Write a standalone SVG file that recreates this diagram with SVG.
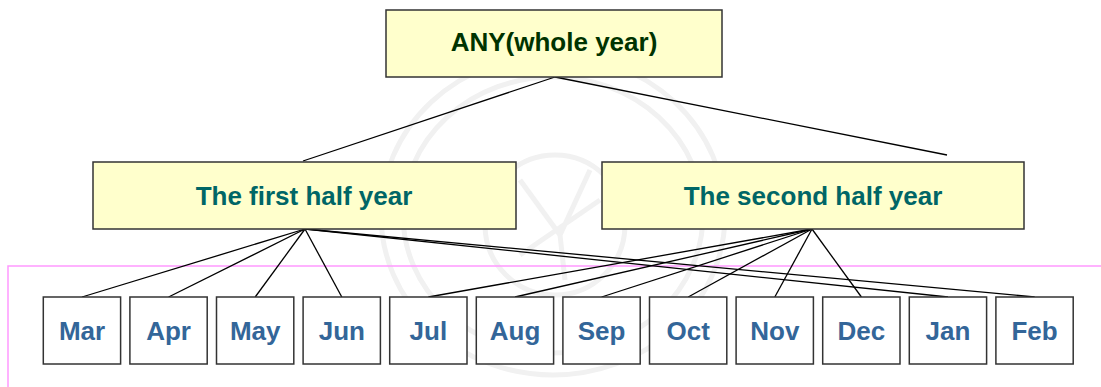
<svg xmlns="http://www.w3.org/2000/svg" width="1101" height="387" viewBox="0 0 1101 387">
<style>
.box{fill:#FFFFCC;stroke:#333333;stroke-width:1.5}
.mbox{fill:#FFFFFF;stroke:#333333;stroke-width:1.5}
.t{font-family:"Liberation Sans",Arial,sans-serif;font-weight:bold;text-anchor:middle}
.top{font-size:26px;fill:#003300}
.mid{font-size:26px;fill:#006666}
.mon{font-size:26px;fill:#336699}
.c{stroke:#000000;stroke-width:1.3;fill:none}
.wm{fill:none;stroke:#f1f1f1;stroke-width:5}
</style>
<rect width="1101" height="387" fill="#FFFFFF"/>
<g id="watermark">
<ellipse class="wm" cx="553" cy="215" rx="172" ry="160"/>
<ellipse class="wm" cx="553" cy="215" rx="150" ry="138" stroke-width="3"/>
<circle class="wm" cx="555" cy="225" r="70" stroke-width="4"/>
<path class="wm" d="M520 180 L560 235 L590 170 M560 235 L565 280 M520 255 L600 200" stroke-width="4"/>
</g>
<g id="frame">
<path d="M8 387 L8 266 L1101 266" fill="none" stroke="#FF99FF" stroke-width="1.5"/>
</g>
<g id="connectors">
<line class="c" x1="555" y1="77" x2="303" y2="161"/>
<line class="c" x1="555" y1="77" x2="947" y2="155"/>
<line class="c" x1="305" y1="229" x2="82" y2="297"/>
<line class="c" x1="305" y1="229" x2="168.6" y2="297"/>
<line class="c" x1="305" y1="229" x2="255.2" y2="297"/>
<line class="c" x1="305" y1="229" x2="341.8" y2="297"/>
<line class="c" x1="305" y1="229" x2="948" y2="297"/>
<line class="c" x1="305" y1="229" x2="1034.6" y2="297"/>
<line class="c" x1="812" y1="229" x2="428.4" y2="297"/>
<line class="c" x1="812" y1="229" x2="515" y2="297"/>
<line class="c" x1="812" y1="229" x2="601.6" y2="297"/>
<line class="c" x1="812" y1="229" x2="688.2" y2="297"/>
<line class="c" x1="812" y1="229" x2="774.8" y2="297"/>
<line class="c" x1="812" y1="229" x2="861.4" y2="297"/>
</g>
<g id="any"><rect class="box" x="386" y="10" width="336" height="67"/><text class="t top" x="554" y="51">ANY(whole year)</text></g>
<g id="first-half"><rect class="box" x="93" y="162" width="423" height="67"/><text class="t mid" x="304" y="205">The first half year</text></g>
<g id="second-half"><rect class="box" x="602" y="162" width="422" height="67"/><text class="t mid" x="813" y="205">The second half year</text></g>
<g id="mar"><rect class="mbox" x="43.3" y="297" width="77.3" height="67"/><text class="t mon" x="82" y="340">Mar</text></g>
<g id="apr"><rect class="mbox" x="129.9" y="297" width="77.3" height="67"/><text class="t mon" x="168.6" y="340">Apr</text></g>
<g id="may"><rect class="mbox" x="216.5" y="297" width="77.3" height="67"/><text class="t mon" x="255.2" y="340">May</text></g>
<g id="jun"><rect class="mbox" x="303.1" y="297" width="77.3" height="67"/><text class="t mon" x="341.8" y="340">Jun</text></g>
<g id="jul"><rect class="mbox" x="389.7" y="297" width="77.3" height="67"/><text class="t mon" x="428.4" y="340">Jul</text></g>
<g id="aug"><rect class="mbox" x="476.3" y="297" width="77.3" height="67"/><text class="t mon" x="515" y="340">Aug</text></g>
<g id="sep"><rect class="mbox" x="562.9" y="297" width="77.3" height="67"/><text class="t mon" x="601.6" y="340">Sep</text></g>
<g id="oct"><rect class="mbox" x="649.5" y="297" width="77.3" height="67"/><text class="t mon" x="688.2" y="340">Oct</text></g>
<g id="nov"><rect class="mbox" x="736.1" y="297" width="77.3" height="67"/><text class="t mon" x="774.8" y="340">Nov</text></g>
<g id="dec"><rect class="mbox" x="822.7" y="297" width="77.3" height="67"/><text class="t mon" x="861.4" y="340">Dec</text></g>
<g id="jan"><rect class="mbox" x="909.3" y="297" width="77.3" height="67"/><text class="t mon" x="948" y="340">Jan</text></g>
<g id="feb"><rect class="mbox" x="995.9" y="297" width="77.3" height="67"/><text class="t mon" x="1034.6" y="340">Feb</text></g>
</svg>
